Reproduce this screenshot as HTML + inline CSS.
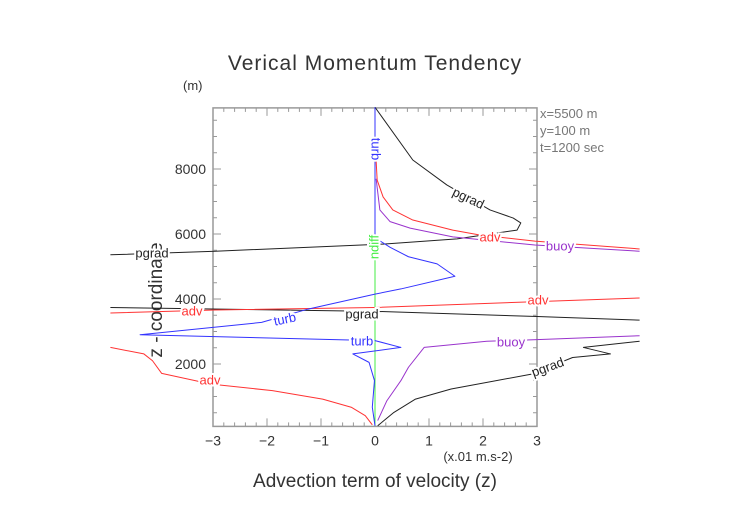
<!DOCTYPE html>
<html><head><meta charset="utf-8"><style>
body{margin:0;background:#fff}
svg{display:block;font-family:"Liberation Sans",sans-serif}
</style></head><body>
<svg id="chart" width="752" height="532" viewBox="0 0 752 532">
<text x="375" y="70" text-anchor="middle" font-size="21" fill="#333" font-weight="300" letter-spacing="1">Verical Momentum Tendency</text>
<text x="183" y="90" font-size="13" fill="#333">(m)</text>
<text transform="translate(162,300) rotate(-90)" text-anchor="middle" font-size="19" fill="#333">z - coordinate</text>
<text x="478" y="461" text-anchor="middle" font-size="13" fill="#333">(x.01 m.s-2)</text>
<text x="375" y="487" text-anchor="middle" font-size="19" fill="#333">Advection term of velocity (z)</text>
<g font-size="13" fill="#777" style="white-space:pre">
<text x="540" y="118">x=5500  m</text><text x="540" y="135">y=100  m</text><text x="540" y="152">t=1200  sec</text>
</g>
<g id="axes"></g><g id="series"></g><g id="labels"></g>
</svg>
<script>
const xTicks=[-3,-2,-1,0,1,2,3];
const yTicks=[2000,4000,6000,8000];
const pgradUpperX=[0,0.70,1.33,2.13,2.56,2.70,2.63,1.52,0.15,-2.96,-4.9];
const pgradUpperZ=[9900,8277,7510,6740,6490,6340,6120,5850,5690,5470,5360];
const pgradMidX=[-4.9,0,3,4.9];
const pgradMidZ=[3740,3620,3460,3350];
const pgradLowX=[0.05,0.35,0.75,1.41,2.9,3.66,4.36,3.86,4.9];
const pgradLowZ=[100,510,920,1230,1690,2200,2310,2510,2700];
const advUpperX=[0,0.02,0.04,0.15,0.33,0.70,1.44,1.94,2.96,4.9];
const advUpperZ=[8360,8277,7660,7140,6740,6430,6120,5970,5780,5540];
const advMidX=[-4.9,-2.96,0,3,4.9];
const advMidZ=[3570,3660,3740,3920,4030];
const advLowX=[-4.9,-4.28,-4.12,-3.95,-3.03,-1.9,-0.97,-0.44,-0.18,-0.05];
const advLowZ=[2510,2310,2100,1710,1380,1180,920,670,410,130];
const buoyUpperX=[0.02,0.03,0.09,0.28,0.65,1.44,2.96,4.9];
const buoyUpperZ=[7700,7570,6740,6380,6180,5910,5660,5470];
const buoyLowX=[0.05,0.22,0.48,0.62,0.91,2.07,3,4.9];
const buoyLowZ=[260,870,1490,1900,2510,2700,2750,2870];
const turbX=[0,0,0.09,0.28,0.62,1.15,1.48,0.48,0,-1.24,-2.1,-4.35,0,0.48,-0.41,-0.11,-0.01,-0.05,0];
const turbZ=[9900,6000,5790,5590,5300,5080,4700,4310,4150,3690,3280,2900,2720,2510,2310,2050,1490,670,100];
const ndiffX=[0,0];
const ndiffZ=[7500,100];

const NS='http://www.w3.org/2000/svg';
const X=v=>375+54*v;
const Y=z=>429-z*0.0325;
const axesG=document.getElementById('axes'),ser=document.getElementById('series'),lab=document.getElementById('labels');
function mk(tag,attrs,parent){const e=document.createElementNS(NS,tag);for(const k in attrs)e.setAttribute(k,attrs[k]);parent.appendChild(e);return e;}
const frame=mk('rect',{x:X(-3),y:Y(9880),width:X(3)-X(-3),height:Y(80)-Y(9880),fill:'none',stroke:'#999','stroke-width':1.5},axesG);


const plotTop=Y(9880),plotBot=Y(80);
for(let i=-30;i<=30;i+=2){const v=i/10,maj=i%10===0,L=maj?8:4;
 mk('line',{x1:X(v),x2:X(v),y1:plotBot,y2:plotBot-L,stroke:'#999'},axesG);
 mk('line',{x1:X(v),x2:X(v),y1:plotTop,y2:plotTop+L,stroke:'#999'},axesG);}
for(let z=500;z<=9500;z+=500){const maj=z%2000===0,L=maj?8:4;
 mk('line',{x1:X(-3),x2:X(-3)+L,y1:Y(z),y2:Y(z),stroke:'#999'},axesG);
 mk('line',{x1:X(3),x2:X(3)-L,y1:Y(z),y2:Y(z),stroke:'#999'},axesG);}
xTicks.forEach(v=>{const t=mk('text',{x:X(v),y:plotBot+19,'text-anchor':'middle','font-size':14,fill:'#333'},axesG);t.textContent=(v<0?'\u2212':'')+Math.abs(v);
 
 });
yTicks.forEach(z=>{const t=mk('text',{x:X(-3)-7,y:Y(z)+5,'text-anchor':'end','font-size':14,fill:'#333'},axesG);t.textContent=z;
 
 });
function line(xs,zs,color,name){const p=mk('polyline',{points:xs.map((v,i)=>X(v)+','+Y(zs[i])).join(' '),fill:'none',stroke:color,'stroke-width':1,'stroke-linejoin':'round'},ser);
 
 }
line(ndiffX,ndiffZ,'#4e4','ndiff-line');
line(pgradUpperX,pgradUpperZ,'#222','pgrad-upper-line');
line(pgradMidX,pgradMidZ,'#222','pgrad-middle-line');
line(pgradLowX,pgradLowZ,'#222','pgrad-lower-line');
line(advUpperX,advUpperZ,'#f33','adv-upper-line');
line(advMidX,advMidZ,'#f33','adv-middle-line');
line(advLowX,advLowZ,'#f33','adv-lower-line');
line(buoyUpperX,buoyUpperZ,'#93c','buoy-upper-line');
line(buoyLowX,buoyLowZ,'#93c','buoy-lower-line');
line(turbX,turbZ,'#33f','turb-line');
function label(txt,x,y,color,rot,name){const t=mk('text',{x:x,y:y,'text-anchor':'middle','dominant-baseline':'middle','font-size':13,fill:color,stroke:'#fff','stroke-width':4,'paint-order':'stroke',transform:'rotate('+rot+' '+x+' '+y+')'},lab);t.textContent=txt;
 
 }
label('pgrad',468,199,'#222',25,'pgrad-label-upper');
label('pgrad',152,254,'#222',0,'pgrad-label-left');
label('pgrad',362,315,'#222',0,'pgrad-label-middle');
label('pgrad',548,368,'#222',-20,'pgrad-label-lower');
label('adv',490,238,'#f33',0,'adv-label-upper');
label('adv',192,312,'#f33',0,'adv-label-left');
label('adv',538,301,'#f33',0,'adv-label-right');
label('adv',210,381,'#f33',0,'adv-label-lower');
label('buoy',560,247,'#93c',0,'buoy-label-upper');
label('buoy',511,343,'#93c',0,'buoy-label-lower');
label('turb',285,320,'#33f',-12,'turb-label-left');
label('turb',362,342,'#33f',0,'turb-label-lower');
label('turb',375,149,'#33f',90,'turb-label-top');
label('ndiff',375,247,'#4e4',-90,'ndiff-label');
</script>
</body></html>
